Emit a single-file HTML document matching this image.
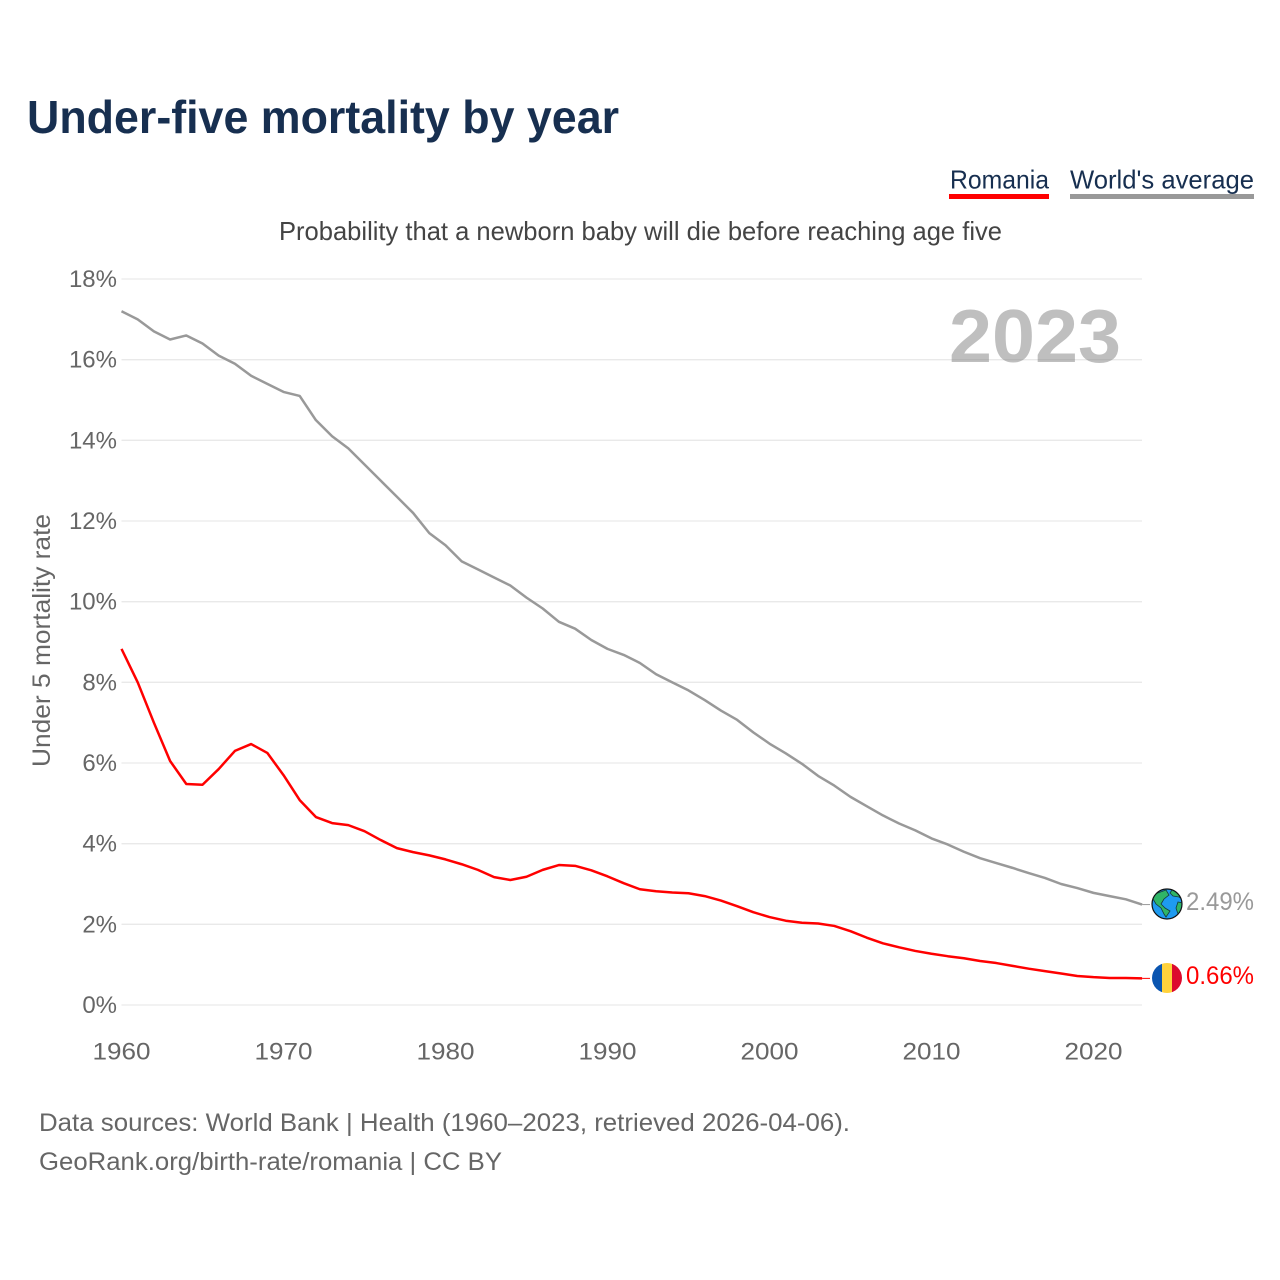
<!DOCTYPE html>
<html>
<head>
<meta charset="utf-8">
<title>Under-five mortality by year</title>
<style>
html,body{margin:0;padding:0;background:#fff}
svg{display:block}
text{font-family:"Liberation Sans",sans-serif}
</style>
</head>
<body>
<svg id="chart" xmlns="http://www.w3.org/2000/svg" width="1280" height="1280" viewBox="0 0 1280 1280">
  <rect width="1280" height="1280" fill="#ffffff"/>
  <text x="27" y="133" font-size="46" font-weight="700" fill="#172f50" textLength="592" lengthAdjust="spacingAndGlyphs">Under-five mortality by year</text>

  <g>
    <text x="950" y="188.5" font-size="26" fill="#172f50" textLength="99" lengthAdjust="spacingAndGlyphs">Romania</text>
    <rect x="949" y="194" width="100" height="5" fill="#ff0000"/>
  </g>
  <g>
    <text x="1070" y="188.5" font-size="26" fill="#172f50" textLength="184" lengthAdjust="spacingAndGlyphs">World's average</text>
    <rect x="1070" y="194" width="184" height="5" fill="#999999"/>
  </g>

  <text x="279" y="240" font-size="26" fill="#444444" textLength="723" lengthAdjust="spacingAndGlyphs">Probability that a newborn baby will die before reaching age five</text>

  <g id="grid"></g>
  <g id="yticks"></g>
  <g id="xticks"></g>

  <text transform="translate(50,640.5) rotate(-90)" text-anchor="middle" font-size="25" fill="#666666" textLength="253" lengthAdjust="spacingAndGlyphs">Under 5 mortality rate</text>

  <text x="949" y="362" font-size="75" font-weight="700" fill="#808080" fill-opacity="0.5" textLength="172" lengthAdjust="spacingAndGlyphs">2023</text>

  <polyline id="line-world" fill="none" stroke="#999999" stroke-width="2.5" stroke-linejoin="round"/>
  <polyline id="line-romania" fill="none" stroke="#ff0000" stroke-width="2.5" stroke-linejoin="round"/>
  <line id="lead-world" stroke="#999999" stroke-width="1"/>
  <line id="lead-romania" stroke="#ff0000" stroke-width="1"/>

  <defs>
    <clipPath id="flag-clip"><circle cx="1167" cy="978" r="15"/></clipPath>
    <clipPath id="globe-clip"><circle cx="1167" cy="904" r="14.5"/></clipPath>
  </defs>

  <g>
    <circle cx="1167" cy="904" r="15" fill="#1e9bf0"/>
    <g clip-path="url(#globe-clip)" fill="#2fb567" stroke="#163a3a" stroke-width="0.8">
      <path d="M1155 894 L1166 890 L1169 895 L1164 899 L1161 904 L1165 908 L1170 911 L1166 917 L1164 914 L1161 908 L1156 904 L1153 899 Z"/>
      <path d="M1172 890 L1180 893 L1183 900 L1179 897 L1173 896 L1170 893 Z"/>
      <path d="M1178 902 L1183 903 L1182 912 L1178 914 L1176 908 Z"/>
    </g>
    <circle cx="1167" cy="904" r="15" fill="none" stroke="#111111" stroke-width="1.2"/>
  </g>

  <g>
    <g clip-path="url(#flag-clip)">
      <rect x="1152" y="963" width="10" height="30" fill="#0a55b0"/>
      <rect x="1162" y="963" width="10" height="30" fill="#ffd23c"/>
      <rect x="1172" y="963" width="10" height="30" fill="#dc0a2d"/>
    </g>
  </g>

  <text id="label-world" x="1186" y="910" font-size="25" fill="#999999" textLength="68" lengthAdjust="spacingAndGlyphs"></text>
  <text id="label-romania" x="1186" y="984" font-size="25" fill="#ff0000" textLength="68" lengthAdjust="spacingAndGlyphs"></text>

  <text x="39" y="1131" font-size="25" fill="#666666" textLength="811" lengthAdjust="spacingAndGlyphs">Data sources: World Bank | Health (1960–2023, retrieved 2026-04-06).</text>
  <text x="39" y="1170" font-size="25" fill="#666666" textLength="463" lengthAdjust="spacingAndGlyphs">GeoRank.org/birth-rate/romania | CC BY</text>
</svg>

<script>
const startYear = 1960;
const yTickValues = [0, 2, 4, 6, 8, 10, 12, 14, 16, 18];
const xTickValues = [1960, 1970, 1980, 1990, 2000, 2010, 2020];
const worldValues = [
  17.2, 17.0, 16.7, 16.5, 16.6, 16.4, 16.1, 15.9, 15.6, 15.4,
  15.2, 15.1, 14.5, 14.1, 13.8, 13.4, 13.0, 12.6, 12.2, 11.7,
  11.4, 11.0, 10.8, 10.6, 10.4, 10.1, 9.83, 9.5, 9.33, 9.05,
  8.83, 8.68, 8.48, 8.2, 8.0, 7.8, 7.56, 7.3, 7.07, 6.76,
  6.48, 6.24, 5.98, 5.68, 5.44, 5.16, 4.93, 4.7, 4.5, 4.33,
  4.13, 3.98, 3.8, 3.64, 3.52, 3.4, 3.27, 3.15, 3.0, 2.9,
  2.78, 2.7, 2.62, 2.49
];
const romaniaValues = [
  8.83, 8.0, 7.0, 6.05, 5.48, 5.46, 5.85, 6.3, 6.47, 6.25,
  5.7, 5.08, 4.66, 4.51, 4.46, 4.31, 4.09, 3.89, 3.79, 3.71,
  3.61, 3.49, 3.35, 3.17, 3.1, 3.18, 3.35, 3.47, 3.45, 3.34,
  3.19, 3.02, 2.87, 2.82, 2.79, 2.77, 2.7, 2.59, 2.45, 2.3,
  2.18, 2.09, 2.04, 2.02, 1.96, 1.83, 1.67, 1.53, 1.43, 1.34,
  1.27, 1.21, 1.16, 1.09, 1.04, 0.97, 0.9, 0.84, 0.78, 0.72,
  0.69, 0.67, 0.67, 0.66
];

const NS = 'http://www.w3.org/2000/svg';
function xScale(year) { return 121.5 + (year - 1960) * 16.2; }
function yScale(value) { return 1005 - value * (726 / 18); }
function toPoints(values) {
  return values.map(function (v, i) {
    return xScale(startYear + i).toFixed(2) + ',' + yScale(v).toFixed(2);
  }).join(' ');
}
function setAttrs(el, attrs) {
  Object.keys(attrs).forEach(function (k) { el.setAttribute(k, attrs[k]); });
}

const grid = document.getElementById('grid');
const yticks = document.getElementById('yticks');
const xticks = document.getElementById('xticks');

yTickValues.forEach(function (v) {
  const ln = document.createElementNS(NS, 'line');
  setAttrs(ln, { x1: 121.5, x2: 1142, y1: yScale(v), y2: yScale(v), stroke: '#e9e9e9', 'stroke-width': 1.3 });
  
  
  grid.appendChild(ln);

  const t = document.createElementNS(NS, 'text');
  setAttrs(t, { x: 117, y: yScale(v) + 8, 'text-anchor': 'end', 'font-size': 24, fill: '#666666' });
  
  
  t.textContent = v + '%';
  yticks.appendChild(t);
});

xTickValues.forEach(function (yr) {
  const t = document.createElementNS(NS, 'text');
  setAttrs(t, { x: xScale(yr), y: 1059.5, 'text-anchor': 'middle', 'font-size': 24, fill: '#666666', textLength: 58, lengthAdjust: 'spacingAndGlyphs' });
  
  
  t.textContent = yr;
  xticks.appendChild(t);
});

document.getElementById('line-world').setAttribute('points', toPoints(worldValues));
document.getElementById('line-romania').setAttribute('points', toPoints(romaniaValues));

const worldLast = worldValues[worldValues.length - 1];
const romaniaLast = romaniaValues[romaniaValues.length - 1];
const lastYear = startYear + worldValues.length - 1;
setAttrs(document.getElementById('lead-world'), { x1: xScale(lastYear), x2: 1150, y1: yScale(worldLast), y2: yScale(worldLast) });
setAttrs(document.getElementById('lead-romania'), { x1: xScale(lastYear), x2: 1150, y1: yScale(romaniaLast), y2: yScale(romaniaLast) });
document.getElementById('label-world').textContent = worldLast.toFixed(2) + '%';
document.getElementById('label-romania').textContent = romaniaLast.toFixed(2) + '%';
</script>
</body>
</html>
